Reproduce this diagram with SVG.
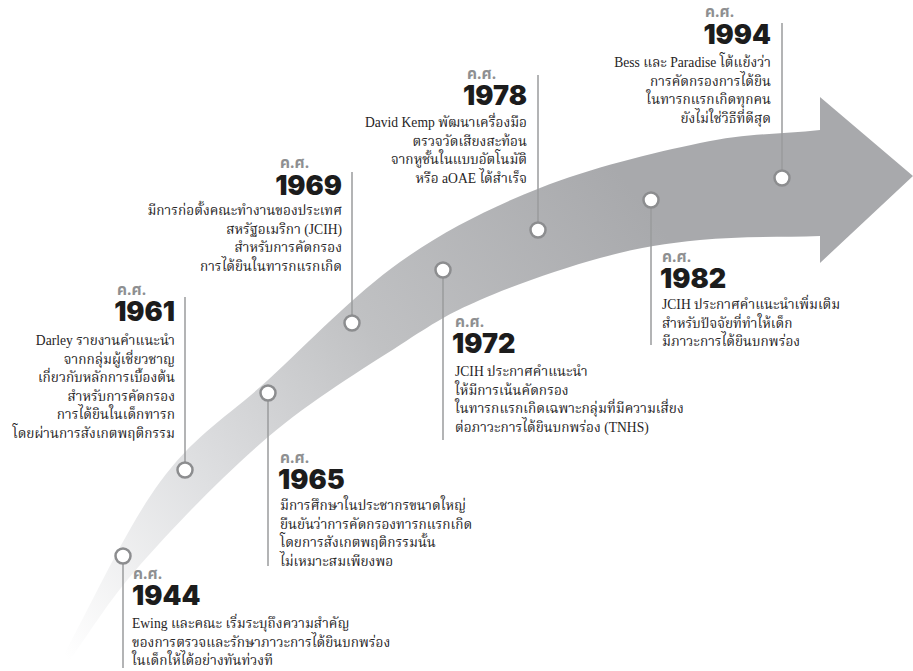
<svg xmlns="http://www.w3.org/2000/svg" width="913" height="671" viewBox="0 0 913 671">
  <defs>
    <linearGradient id="bandFill" gradientUnits="userSpaceOnUse" x1="60" y1="650" x2="640" y2="200">
      <stop offset="0" stop-color="#ffffff"/>
      <stop offset="0.3" stop-color="#dedfe1"/>
      <stop offset="0.6" stop-color="#c0c1c3"/>
      <stop offset="1" stop-color="#a8a9ac"/>
    </linearGradient>
    <style>
      .yr { font-family: "Inter", "Roboto", "Liberation Sans", sans-serif; font-weight: 900; font-size: 27px; fill: #1c1c1c; }
      .ks { font-family: "Noto Sans Thai", "Noto Sans", "Liberation Sans", sans-serif; font-weight: 700; font-size: 15.5px; fill: #8e8f91; }
      .tx { font-family: "Liberation Serif", "Noto Serif Thai", "Noto Sans Thai", serif; font-size: 13.6px; fill: #262425; }
      .end { text-anchor: end; }
      .stem { stroke: #9a9b9d; stroke-width: 1.5; fill: none; }
      .dot { fill: #ffffff; stroke: #8c8d8f; stroke-width: 2.5; }
    </style>
  </defs>

  <!-- curved timeline arrow -->
  <path id="arrow" fill="url(#bandFill)" d="M55,671 C90,608 124.5,530.5 160,482 C195.5,433.5 228,416.7 268,380 C308,343.3 354.7,294 400,262 C445.3,230 490,207.8 540,188 C590,168.2 653.3,152.7 700,143 C746.7,133.3 780,134.3 820,130 L820,97 L913,176 L820,263 L820,236 C780,237.3 736.7,236.3 700,240 C663.3,243.7 636.7,248 600,258 C563.3,268 513.3,285.5 480,300 C446.7,314.5 435.3,322.2 400,345 C364.7,367.8 311.3,400.3 268,437 C224.7,473.7 174.3,526 140,565 C105.7,604 88,635.7 62,671 Z"/>

  <!-- leader lines from each milestone dot -->
  <g id="connectors">
    <line class="stem" x1="123" y1="564" x2="123" y2="668"/>
    <line class="stem" x1="185" y1="297" x2="185" y2="462"/>
    <line class="stem" x1="268" y1="401" x2="268" y2="566"/>
    <line class="stem" x1="352" y1="172" x2="352" y2="315"/>
    <line class="stem" x1="443" y1="278" x2="443" y2="440"/>
    <line class="stem" x1="538" y1="75" x2="538" y2="222"/>
    <line class="stem" x1="651" y1="208" x2="651" y2="345"/>
    <line class="stem" x1="782" y1="23" x2="782" y2="170"/>
  </g>

  <g id="m1944">
    <circle class="dot" cx="123" cy="556" r="7.5"/>
    <text class="ks" x="133" y="579">ค.ศ.</text>
    <text class="yr" x="132" y="605">1944</text>
    <text class="tx" x="132" y="628">Ewing และคณะ เริ่มระบุถึงความสำคัญ</text>
    <text class="tx" x="132" y="646.6">ของการตรวจและรักษาภาวะการได้ยินบกพร่อง</text>
    <text class="tx" x="132" y="665.2">ในเด็กให้ได้อย่างทันท่วงที</text>
  </g>

  <g id="m1961">
    <circle class="dot" cx="185" cy="470" r="7.5"/>
    <text class="ks" x="117" y="295">ค.ศ.</text>
    <text class="yr end" x="175" y="321">1961</text>
    <text class="tx end" x="175" y="345">Darley รายงานคำแนะนำ</text>
    <text class="tx end" x="175" y="363.6">จากกลุ่มผู้เชี่ยวชาญ</text>
    <text class="tx end" x="175" y="382.2">เกี่ยวกับหลักการเบื้องต้น</text>
    <text class="tx end" x="175" y="400.8">สำหรับการคัดกรอง</text>
    <text class="tx end" x="175" y="419.4">การได้ยินในเด็กทารก</text>
    <text class="tx end" x="175" y="438">โดยผ่านการสังเกตพฤติกรรม</text>
  </g>

  <g id="m1965">
    <circle class="dot" cx="268" cy="393" r="7.5"/>
    <text class="ks" x="280" y="463">ค.ศ.</text>
    <text class="yr" x="278" y="489">1965</text>
    <text class="tx" x="280" y="510">มีการศึกษาในประชากรขนาดใหญ่</text>
    <text class="tx" x="280" y="528.6">ยืนยันว่าการคัดกรองทารกแรกเกิด</text>
    <text class="tx" x="280" y="547.2">โดยการสังเกตพฤติกรรมนั้น</text>
    <text class="tx" x="280" y="565.8">ไม่เหมาะสมเพียงพอ</text>
  </g>

  <g id="m1969">
    <circle class="dot" cx="352" cy="323" r="7.5"/>
    <text class="ks" x="280" y="168">ค.ศ.</text>
    <text class="yr end" x="342" y="195">1969</text>
    <text class="tx end" x="342" y="215">มีการก่อตั้งคณะทำงานของประเทศ</text>
    <text class="tx end" x="342" y="233.6">สหรัฐอเมริกา (JCIH)</text>
    <text class="tx end" x="342" y="252.2">สำหรับการคัดกรอง</text>
    <text class="tx end" x="342" y="270.8">การได้ยินในทารกแรกเกิด</text>
  </g>

  <g id="m1972">
    <circle class="dot" cx="443" cy="270" r="7.5"/>
    <text class="ks" x="455" y="327">ค.ศ.</text>
    <text class="yr" x="452" y="353">1972</text>
    <text class="tx" x="455" y="376">JCIH ประกาศคำแนะนำ</text>
    <text class="tx" x="455" y="394.6">ให้มีการเน้นคัดกรอง</text>
    <text class="tx" x="455" y="413.2">ในทารกแรกเกิดเฉพาะกลุ่มที่มีความเสี่ยง</text>
    <text class="tx" x="455" y="431.8">ต่อภาวะการได้ยินบกพร่อง (TNHS)</text>
  </g>

  <g id="m1978">
    <circle class="dot" cx="538" cy="230" r="7.5"/>
    <text class="ks" x="467" y="79">ค.ศ.</text>
    <text class="yr end" x="527" y="105">1978</text>
    <text class="tx end" x="527" y="127">David Kemp พัฒนาเครื่องมือ</text>
    <text class="tx end" x="527" y="145.6">ตรวจวัดเสียงสะท้อน</text>
    <text class="tx end" x="527" y="164.2">จากหูชั้นในแบบอัตโนมัติ</text>
    <text class="tx end" x="527" y="182.8">หรือ aOAE ได้สำเร็จ</text>
  </g>

  <g id="m1982">
    <circle class="dot" cx="651" cy="200" r="7.5"/>
    <text class="ks" x="662" y="262">ค.ศ.</text>
    <text class="yr" x="660" y="288">1982</text>
    <text class="tx" x="662" y="309">JCIH ประกาศคำแนะนำเพิ่มเติม</text>
    <text class="tx" x="662" y="327.6">สำหรับปัจจัยที่ทำให้เด็ก</text>
    <text class="tx" x="662" y="346.2">มีภาวะการได้ยินบกพร่อง</text>
  </g>

  <g id="m1994">
    <circle class="dot" cx="782" cy="178" r="7.5"/>
    <text class="ks" x="705" y="17">ค.ศ.</text>
    <text class="yr end" x="771" y="44">1994</text>
    <text class="tx end" x="771" y="67">Bess และ Paradise โต้แย้งว่า</text>
    <text class="tx end" x="771" y="85.6">การคัดกรองการได้ยิน</text>
    <text class="tx end" x="771" y="104.2">ในทารกแรกเกิดทุกคน</text>
    <text class="tx end" x="771" y="122.8">ยังไม่ใช่วิธีที่ดีสุด</text>
  </g>
</svg>
